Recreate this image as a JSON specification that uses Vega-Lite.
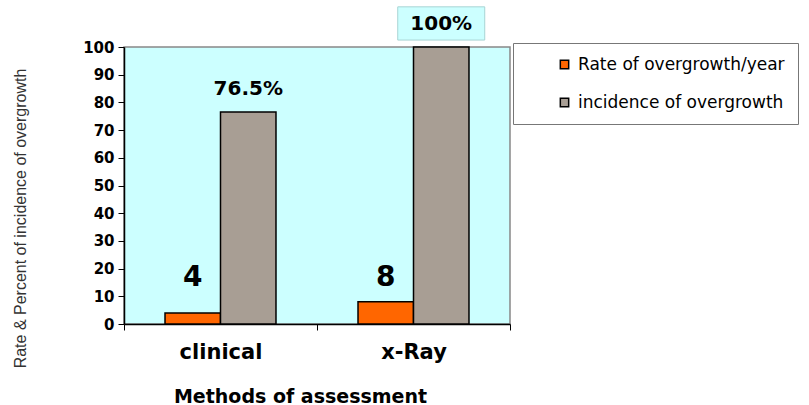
{
  "$schema": "https://vega.github.io/schema/vega-lite/v6.json",
  "width": 386,
  "height": 277,
  "autosize": "none",
  "padding": {"left": 124, "top": 47, "right": 299, "bottom": 81},
  "background": "white",
  "config": {
    "font": "DejaVu Sans",
    "view": {"fill": "#ccffff", "stroke": "#888888", "strokeWidth": 1.5}
  },
  "data": {
    "values": [
      {"method": "clinical", "series": "Rate of overgrowth/year", "value": 4, "label": "4"},
      {"method": "clinical", "series": "incidence of overgrowth", "value": 76.5, "label": "76.5%"},
      {"method": "x-Ray", "series": "Rate of overgrowth/year", "value": 8, "label": "8"},
      {"method": "x-Ray", "series": "incidence of overgrowth", "value": 100, "label": "100%"}
    ]
  },
  "encoding": {
    "x": {
      "field": "method", "type": "nominal", "sort": ["clinical", "x-Ray"],
      "scale": {"paddingInner": 0, "paddingOuter": 0},
      "axis": {
        "title": "Methods of assessment",
        "titleFont": "DejaVu Sans", "titleFontSize": 19, "titleFontWeight": "bold", "titleColor": "black",
        "titleX": 176, "titleY": 72, "titleBaseline": "middle",
        "labelAngle": 0, "labelFont": "DejaVu Sans", "labelFontSize": 21, "labelFontWeight": "bold", "labelColor": "black", "labelPadding": 11,
        "tickBand": "extent", "tickSize": 6, "tickColor": "black", "domainColor": "black", "domainWidth": 1.5
      }
    },
    "xOffset": {
      "field": "series", "type": "nominal",
      "sort": ["Rate of overgrowth/year", "incidence of overgrowth"],
      "scale": {"paddingInner": 0, "paddingOuter": 0.739}
    },
    "y": {
      "field": "value", "type": "quantitative",
      "scale": {"domain": [0, 100], "nice": false},
      "axis": {
        "values": [0, 10, 20, 30, 40, 50, 60, 70, 80, 90, 100],
        "tickCount": 11,
        "labelOverlap": false,
        "grid": false,
        "title": "Rate & Percent of incidence of overgrowth",
        "titleFont": "Liberation Sans", "titleFontSize": 16, "titleFontWeight": "normal", "titleColor": "#333333",
        "titleX": -104, "titleY": 171, "titleBaseline": "middle", "titleAngle": 270,
        "labelFont": "DejaVu Sans", "labelFontSize": 15, "labelFontWeight": "bold", "labelColor": "black", "labelPadding": 4,
        "tickSize": 6, "tickColor": "black", "domainColor": "black", "domainWidth": 1.5
      }
    }
  },
  "layer": [
    {
      "mark": {"type": "bar", "stroke": "black", "strokeWidth": 1.5},
      "encoding": {
        "color": {
          "field": "series", "type": "nominal",
          "sort": ["Rate of overgrowth/year", "incidence of overgrowth"],
          "scale": {"domain": ["Rate of overgrowth/year", "incidence of overgrowth"], "range": ["#ff6600", "#a89e94"]},
          "legend": {
            "title": null,
            "orient": "none", "legendX": 389, "legendY": -4,
            "fillColor": "white", "strokeColor": "#777777",
            "padding": 13,
            "symbolType": "square", "symbolSize": 70, "symbolStrokeColor": "black", "symbolStrokeWidth": 1.5,
            "symbolOffset": 30,
            "labelFont": "DejaVu Sans", "labelFontSize": 17, "labelColor": "black", "labelOffset": 5,
            "labelLimit": 400, "rowPadding": 20
          }
        }
      }
    },
    {
      "transform": [{"filter": "datum.value == 100 && datum.series == 'incidence of overgrowth'"}],
      "mark": {"type": "bar", "width": 87, "fill": "#ccffff", "stroke": "#a8d4d4", "strokeWidth": 1, "clip": false},
      "encoding": {
        "y": {"datum": 102.5, "type": "quantitative"},
        "y2": {"datum": 114.5}
      }
    },
    {
      "transform": [{"filter": "datum.series == 'incidence of overgrowth'"}],
      "mark": {"type": "text", "font": "DejaVu Sans", "fontSize": 20, "fontWeight": "bold", "dy": -23, "color": "black", "clip": false},
      "encoding": {
        "text": {"field": "label"}
      }
    },
    {
      "transform": [{"filter": "datum.series == 'Rate of overgrowth/year'"}],
      "mark": {"type": "text", "font": "DejaVu Sans", "fontSize": 28, "fontWeight": "bold", "color": "black", "baseline": "middle"},
      "encoding": {
        "y": {"datum": 16.5, "type": "quantitative"},
        "text": {"field": "label"}
      }
    }
  ]
}
